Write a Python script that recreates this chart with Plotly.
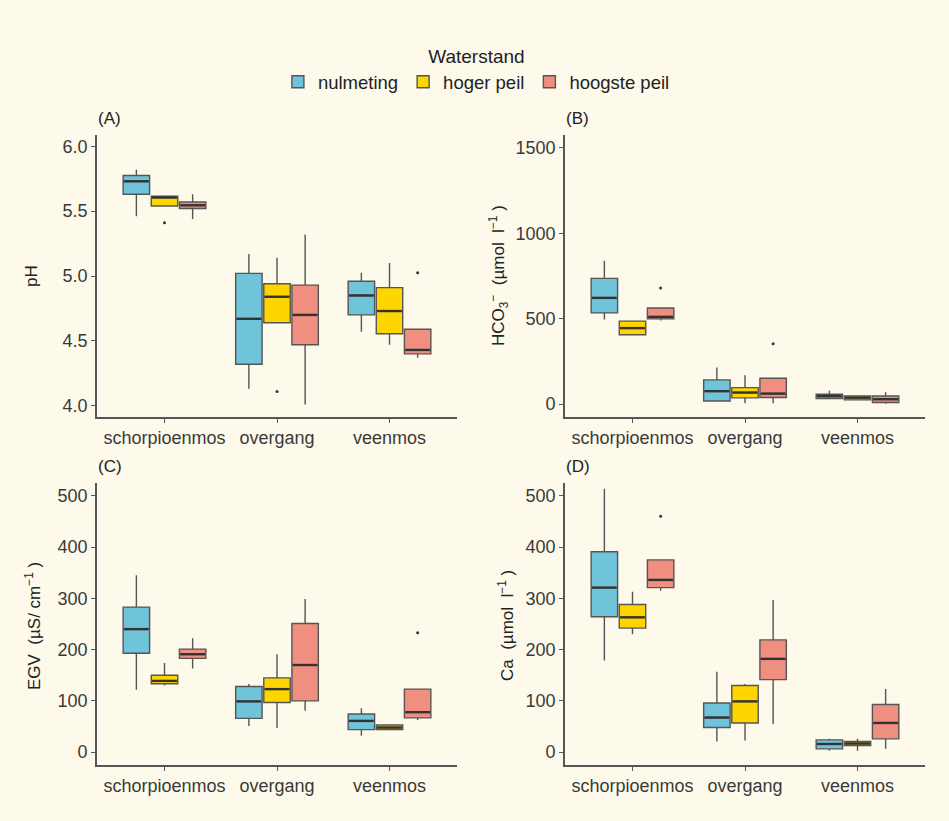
import plotly.graph_objects as go

# ---------------- data ----------------
categories = ["schorpioenmos", "overgang", "veenmos"]
series = ["nulmeting", "hoger peil", "hoogste peil"]
colors = ["#70C4DA", "#FFD500", "#F08F80"]

# pH
ph_lo  = [[5.46, 4.13, 4.57], [5.54, 4.64, 4.47], [5.44, 4.01, 4.37]]
ph_q1  = [[5.63, 4.32, 4.70], [5.54, 4.64, 4.555], [5.52, 4.47, 4.40]]
ph_med = [[5.73, 4.67, 4.85], [5.605, 4.84, 4.73], [5.545, 4.70, 4.43]]
ph_q3  = [[5.775, 5.02, 4.96], [5.615, 4.94, 4.91], [5.57, 4.93, 4.59]]
ph_hi  = [[5.82, 5.17, 5.025], [5.62, 5.14, 5.10], [5.63, 5.32, 4.59]]
ph_out = [[[], [], []], [[5.41], [4.11], []], [[], [], [5.025]]]

# HCO3
hco_lo  = [[495, 15, 33], [406, 6, 25], [490, 6, 2]]
hco_q1  = [[534, 19, 33], [406, 37, 25], [499, 39, 10]]
hco_med = [[622, 76, 47], [445, 68, 38], [511, 62, 29]]
hco_q3  = [[736, 142, 58], [486, 97, 48], [563, 152, 48]]
hco_hi  = [[839, 214, 78], [486, 169, 52], [563, 152, 70]]
hco_out = [[[], [], []], [[], [], []], [[680], [354], []]]

# EGV
egv_lo  = [[122, 51, 32], [130, 47, 44], [163, 81, 63]]
egv_q1  = [[193, 66, 44], [133.5, 97, 44], [183, 100, 67]]
egv_med = [[240, 99, 61], [139, 123, 48], [191, 170, 78]]
egv_q3  = [[283, 128, 74.5], [150, 145, 53], [201, 251, 123]]
egv_hi  = [[345, 133, 85.5], [174, 191, 54], [222, 299, 123]]
egv_out = [[[], [], []], [[], [], []], [[], [], [233]]]

# Ca
ca_lo  = [[179, 21, 3], [230, 23, 3], [315, 55, 6.5]]
ca_q1  = [[264, 48, 6.5], [242, 57, 13], [321, 141.5, 26]]
ca_med = [[321, 67.5, 16], [263, 99, 17], [336, 182, 57]]
ca_q3  = [[391, 96, 24], [288, 130, 21], [375, 219, 93]]
ca_hi  = [[514, 157, 26], [313, 133, 26], [375, 297, 123]]
ca_out = [[[], [], []], [[], [], []], [[460], [], []]]

panels = [
    dict(tag="(A)", stats=(ph_lo, ph_q1, ph_med, ph_q3, ph_hi), out=ph_out),
    dict(tag="(B)", stats=(hco_lo, hco_q1, hco_med, hco_q3, hco_hi), out=hco_out),
    dict(tag="(C)", stats=(egv_lo, egv_q1, egv_med, egv_q3, egv_hi), out=egv_out),
    dict(tag="(D)", stats=(ca_lo, ca_q1, ca_med, ca_q3, ca_hi), out=ca_out),
]

# ---------------- figure ----------------
W, H = 949, 821
BG = "#FDF9EB"
LINE = "#555555"
MEDLINE = "#333333"
FONT = "Liberation Sans, Arial, sans-serif"
TICKSIZE = 18
dodge = 0.25
boxw = 0.235

fig = go.Figure()
cat_idx = list(range(len(categories)))

for p, panel in enumerate(panels):
    ax = "" if p == 0 else str(p + 1)
    lo, q1, med, q3, hi = panel["stats"]
    for s, name in enumerate(series):
        off = (s - 1) * dodge
        xs = [i + off for i in cat_idx]
        fig.add_trace(go.Box(
            x=xs, q1=q1[s], median=med[s], q3=q3[s],
            lowerfence=lo[s], upperfence=hi[s],
            width=boxw, whiskerwidth=0,
            fillcolor=colors[s], line=dict(color=LINE, width=1.4),
            name=name, legendgroup=name, showlegend=(p == 0),
            boxpoints=False, hoverinfo="skip",
            xaxis="x" + ax, yaxis="y" + ax,
        ))
        # thicker median bar (ggplot style)
        mx, my = [], []
        for i in cat_idx:
            mx += [i + off - boxw / 2 + 0.008, i + off + boxw / 2 - 0.008, None]
            my += [med[s][i], med[s][i], None]
        fig.add_trace(go.Scatter(
            x=mx, y=my, mode="lines", line=dict(color=MEDLINE, width=2.4),
            showlegend=False, hoverinfo="skip",
            xaxis="x" + ax, yaxis="y" + ax,
        ))
        ox, oy = [], []
        for i in cat_idx:
            for v in panel["out"][s][i]:
                ox.append(i + off)
                oy.append(v)
        if ox:
            fig.add_trace(go.Scatter(
                x=ox, y=oy, mode="markers",
                marker=dict(color="#333333", size=3),
                showlegend=False, hoverinfo="skip",
                xaxis="x" + ax, yaxis="y" + ax,
            ))

# domains (pixel-based)
def px_x(a, b):
    return [a / W, b / W]

def px_y(top, bottom):
    return [1 - bottom / H, 1 - top / H]

xdoms = [px_x(97, 457), px_x(565, 925), px_x(97, 457), px_x(565, 925)]
ydoms = [px_y(135, 417), px_y(135, 417), px_y(483, 765), px_y(483, 765)]
yranges = [[3.913, 6.087], [-75, 1575], [-25, 525], [-25, 525]]
ytickvals = [[4.0, 4.5, 5.0, 5.5, 6.0], [0, 500, 1000, 1500],
             [0, 100, 200, 300, 400, 500], [0, 100, 200, 300, 400, 500]]
yticktext = [["4.0", "4.5", "5.0", "5.5", "6.0"], ["0", "500", "1000", "1500"],
             ["0", "100", "200", "300", "400", "500"], ["0", "100", "200", "300", "400", "500"]]

layout = dict(
    width=W, height=H,
    paper_bgcolor=BG, plot_bgcolor=BG,
    margin=dict(l=0, r=0, t=0, b=0),
    font=dict(family=FONT, size=16, color="#222222"),
    showlegend=True,
    legend=dict(
        orientation="h", x=0.502, xanchor="center", y=0.953, yanchor="top",
        title=dict(text="Waterstand", side="top center", font=dict(size=19)),
        font=dict(size=18.5), bgcolor="rgba(0,0,0,0)", itemclick=False,
        tracegroupgap=0,
    ),
)

for p in range(4):
    ax = "" if p == 0 else str(p + 1)
    layout["xaxis" + ax] = dict(
        domain=xdoms[p], range=[-0.6, 2.6], anchor="y" + ax,
        tickvals=cat_idx, ticktext=categories,
        showline=True, linecolor=LINE, linewidth=1.6,
        ticks="outside", ticklen=4, tickcolor=LINE, tickwidth=1.4,
        showgrid=False, zeroline=False,
        tickfont=dict(size=TICKSIZE, color="#3a3a3a"),
    )
    layout["yaxis" + ax] = dict(
        domain=ydoms[p], range=yranges[p], anchor="x" + ax,
        tickvals=ytickvals[p], ticktext=yticktext[p],
        showline=True, linecolor=LINE, linewidth=1.6,
        ticks="outside", ticklen=4, tickcolor=LINE, tickwidth=1.4,
        showgrid=False, zeroline=False,
        tickfont=dict(size=TICKSIZE, color="#3a3a3a"),
    )

fig.update_layout(**layout)

# panel tags
tag_pos = [(96, 118), (564, 118), (96, 466), (564, 466)]
for panel, (tx, ty) in zip(panels, tag_pos):
    fig.add_annotation(text=panel["tag"], x=tx / W, y=1 - ty / H, xref="paper", yref="paper",
                       xanchor="left", yanchor="middle", showarrow=False,
                       font=dict(size=17, color="#222222"))

# y-axis titles
ytitles = [
    ("pH", 32, 276),
    ("HCO<sub>3</sub><sup>\u2212</sup>  (\u00b5mol  l<sup>\u22121</sup> )", 499, 276),
    ("EGV  (\u00b5S/ cm<sup>\u22121</sup> )", 33, 626),
    ("Ca  (\u00b5mol  l<sup>\u22121</sup> )", 506, 626),
]
for txt, tx, ty in ytitles:
    fig.add_annotation(text=txt, x=tx / W, y=1 - ty / H, xref="paper", yref="paper",
                       xanchor="center", yanchor="middle", showarrow=False, textangle=-90,
                       font=dict(size=17, color="#222222"))

fig.write_html(
    "out.html",
    config={"displayModeBar": False},
    post_script="document.body.style.margin='0';document.body.style.background='%s';" % BG,
)
